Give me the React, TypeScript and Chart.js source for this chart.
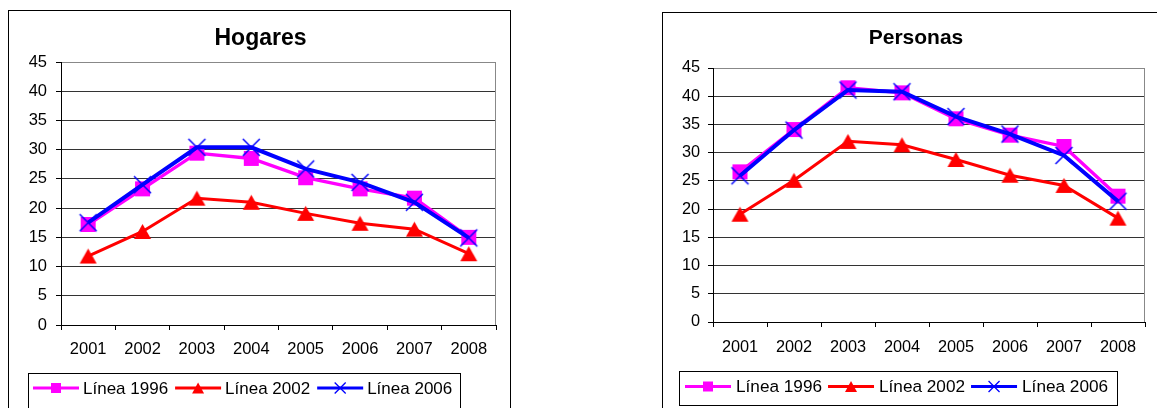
import React, { useEffect, useRef } from 'react';
import { Chart, registerables } from 'chart.js';

Chart.register(...registerables);

// ---------- data ----------
const years = ['2001', '2002', '2003', '2004', '2005', '2006', '2007', '2008'];
const seriesNames = ['Línea 1996', 'Línea 2002', 'Línea 2006'];

const hogares1996 = [17.2, 23.3, 29.4, 28.5, 25.2, 23.3, 21.7, 15.0];
const hogares2002 = [11.8, 16.0, 21.7, 21.0, 19.1, 17.4, 16.4, 12.2];
const hogares2006 = [17.5, 24.0, 30.4, 30.4, 26.7, 24.4, 21.0, 14.9];

const personas1996 = [26.6, 34.1, 41.5, 40.6, 36.0, 33.1, 31.1, 22.3];
const personas2002 = [19.1, 25.1, 32.0, 31.4, 28.8, 26.0, 24.2, 18.4];
const personas2006 = [25.9, 34.0, 41.1, 40.8, 36.4, 33.3, 29.5, 21.4];

const yTickValues = [0, 5, 10, 15, 20, 25, 30, 35, 40, 45];

// ---------- styles ----------
const FONT = "'Liberation Sans', Arial, Helvetica, sans-serif";
const COLORS = ['#FF00FF', '#FF0000', '#0000FF'];
const LINE_WIDTHS = [3.4, 3, 4];
const MARKERS = ['square', 'triangle', 'cross'];
const CHART_MARKER = [
  { w: 15, h: 15, lw: 0 },
  { w: 17, h: 15, lw: 0 },
  { w: 17, h: 17, lw: 1.5 },
];
const LEGEND_MARKER = [
  { w: 10, h: 10, lw: 0 },
  { w: 12, h: 11, lw: 0 },
  { w: 11, h: 11, lw: 1.3 },
];

type MSize = { w: number; h: number; lw: number };

function drawMarker(ctx: CanvasRenderingContext2D, kind: string, cx: number, cy: number, s: MSize, color: string) {
  ctx.save();
  if (kind === 'square') {
    ctx.fillStyle = color;
    ctx.fillRect(cx - s.w / 2, cy - s.h / 2, s.w, s.h);
  } else if (kind === 'triangle') {
    ctx.fillStyle = color;
    ctx.beginPath();
    ctx.moveTo(cx, cy - s.h / 2);
    ctx.lineTo(cx + s.w / 2, cy + s.h / 2);
    ctx.lineTo(cx - s.w / 2, cy + s.h / 2);
    ctx.closePath();
    ctx.fill();
  } else {
    ctx.strokeStyle = color;
    ctx.lineWidth = s.lw;
    ctx.beginPath();
    ctx.moveTo(cx - s.w / 2, cy - s.h / 2);
    ctx.lineTo(cx + s.w / 2, cy + s.h / 2);
    ctx.moveTo(cx + s.w / 2, cy - s.h / 2);
    ctx.lineTo(cx - s.w / 2, cy + s.h / 2);
    ctx.stroke();
  }
  ctx.restore();
}

function markerImage(kind: string, s: MSize, color: string) {
  const c = document.createElement('canvas');
  c.width = s.w + 4;
  c.height = s.h + 4;
  const ctx = c.getContext('2d')!;
  drawMarker(ctx, kind, c.width / 2, c.height / 2, s, color);
  return c;
}

const plotBorder = {
  id: 'plotBorder',
  beforeDatasetsDraw(chart: any) {
    const { ctx, chartArea: a } = chart;
    ctx.save();
    ctx.strokeStyle = '#888888';
    ctx.lineWidth = 1;
    ctx.beginPath();
    ctx.moveTo(Math.round(a.right) - 0.5, a.top);
    ctx.lineTo(Math.round(a.right) - 0.5, a.bottom);
    ctx.stroke();
    ctx.restore();
  },
};

type LegendCfg = { x: number; y: number; w: number; h: number; lineY: number; pad: number; gap: number; itemGap: number; font: number };

function boxLegend(cfg: LegendCfg) {
  return {
    id: 'boxLegend',
    afterDraw(chart: any) {
      const ctx: CanvasRenderingContext2D = chart.ctx;
      ctx.save();
      ctx.strokeStyle = '#000';
      ctx.lineWidth = 1;
      ctx.strokeRect(cfg.x + 0.5, cfg.y + 0.5, cfg.w, cfg.h);
      ctx.font = `${cfg.font}px ${FONT}`;
      ctx.textBaseline = 'middle';
      ctx.textAlign = 'left';
      let x = cfg.x + cfg.pad;
      const symW = 46;
      chart.data.datasets.forEach((ds: any, i: number) => {
        ctx.strokeStyle = ds.borderColor;
        ctx.lineWidth = 3;
        ctx.beginPath();
        ctx.moveTo(x, cfg.lineY);
        ctx.lineTo(x + symW, cfg.lineY);
        ctx.stroke();
        drawMarker(ctx, MARKERS[i], x + symW / 2, cfg.lineY, LEGEND_MARKER[i], ds.borderColor);
        ctx.fillStyle = '#000';
        ctx.fillText(ds.label, x + symW + cfg.gap, cfg.lineY + 1);
        x += symW + cfg.gap + ctx.measureText(ds.label).width + cfg.itemGap;
      });
      ctx.restore();
    },
  };
}

type ChartCfg = {
  title: string;
  titleSize: number;
  titlePad: { top: number; bottom: number };
  series: number[][];
  width: number;
  height: number;
  padding: { left: number; right: number; bottom: number };
  yAxisWidth: number;
  yTickPad: number;
  xTickPad: number;
  tickFont: number;
  legend: LegendCfg;
};

function LineChartBox({ cfg }: { cfg: ChartCfg }) {
  const ref = useRef<HTMLCanvasElement>(null);
  useEffect(() => {
    const canvas = ref.current!;
    const chart = new Chart(canvas, {
      type: 'line',
      data: {
        labels: years,
        datasets: cfg.series.map((vals, i) => ({
          label: seriesNames[i],
          data: vals,
          borderColor: COLORS[i],
          backgroundColor: COLORS[i],
          borderWidth: LINE_WIDTHS[i],
          tension: 0,
          fill: false,
          pointStyle: markerImage(MARKERS[i], CHART_MARKER[i], COLORS[i]) as any,
          pointRadius: 8,
          pointHoverRadius: 8,
          order: 3 - i,
        })),
      },
      options: {
        responsive: false,
        animation: false,
        events: [],
        layout: { padding: { left: cfg.padding.left, right: cfg.padding.right, top: 0, bottom: cfg.padding.bottom } },
        plugins: {
          legend: { display: false },
          tooltip: { enabled: false },
          title: {
            display: true,
            text: cfg.title,
            color: '#000',
            font: { family: FONT, size: cfg.titleSize, weight: 'bold' },
            padding: cfg.titlePad,
          },
        },
        scales: {
          x: {
            type: 'category',
            offset: true,
            grid: {
              offset: true,
              drawOnChartArea: false,
              drawTicks: true,
              tickLength: 5,
              color: '#000',
              tickColor: '#000',
              lineWidth: 1,
            },
            border: { color: '#000', width: 1 },
            ticks: {
              color: '#000',
              font: { family: FONT, size: cfg.tickFont },
              padding: cfg.xTickPad,
              maxRotation: 0,
              minRotation: 0,
              autoSkip: false,
            },
            afterFit: (s: any) => {
              s.height = 60;
            },
          },
          y: {
            min: 0,
            max: 45,
            afterBuildTicks: (s: any) => {
              s.ticks = yTickValues.map((v) => ({ value: v }));
            },
            grid: {
              color: (c: any) => (c.tick && c.tick.value === 45 ? '#888888' : '#333333'),
              tickColor: '#000',
              tickLength: 5,
              drawTicks: true,
              lineWidth: 1,
            },
            border: { color: '#000', width: 1 },
            ticks: {
              color: '#000',
              font: { family: FONT, size: cfg.tickFont },
              padding: cfg.yTickPad,
            },
            afterFit: (s: any) => {
              s.width = cfg.yAxisWidth;
            },
          },
        },
      } as any,
      plugins: [plotBorder, boxLegend(cfg.legend)],
    });
    return () => chart.destroy();
  }, []);
  return (
    <canvas
      ref={ref}
      width={cfg.width}
      height={cfg.height}
      style={{ position: 'absolute', left: 0, top: 0, width: cfg.width, height: cfg.height }}
    />
  );
}

const hogaresCfg: ChartCfg = {
  title: 'Hogares',
  titleSize: 23,
  titlePad: { top: 14.2, bottom: 9.2 },
  series: [hogares1996, hogares2002, hogares2006],
  width: 500,
  height: 397,
  padding: { left: 16, right: 13, bottom: 23 },
  yAxisWidth: 36,
  yTickPad: 9,
  xTickPad: 10,
  tickFont: 16.5,
  legend: { x: 19, y: 362, w: 432, h: 38, lineY: 377, pad: 5, gap: 4, itemGap: 7, font: 17 },
};

const personasCfg: ChartCfg = {
  title: 'Personas',
  titleSize: 21,
  titlePad: { top: 12.4, bottom: 17.4 },
  series: [personas1996, personas2002, personas2006],
  width: 494,
  height: 395,
  padding: { left: 15, right: 3, bottom: 26 },
  yAxisWidth: 35,
  yTickPad: 8,
  xTickPad: 10.5,
  tickFont: 16.3,
  legend: { x: 16, y: 358, w: 438, h: 34, lineY: 373.5, pad: 6, gap: 5, itemGap: 6, font: 17.2 },
};

export default function App() {
  return (
    <div style={{ position: 'fixed', left: 0, top: 0, width: 1157, height: 408, overflow: 'hidden', background: '#fff' }}>
      <div style={{ position: 'absolute', left: 8, top: 10, width: 501, height: 420, border: '1px solid #000' }}>
        <LineChartBox cfg={hogaresCfg} />
      </div>
      <div style={{ position: 'absolute', left: 662, top: 12, width: 520, height: 420, border: '1px solid #000' }}>
        <LineChartBox cfg={personasCfg} />
      </div>
    </div>
  );
}
